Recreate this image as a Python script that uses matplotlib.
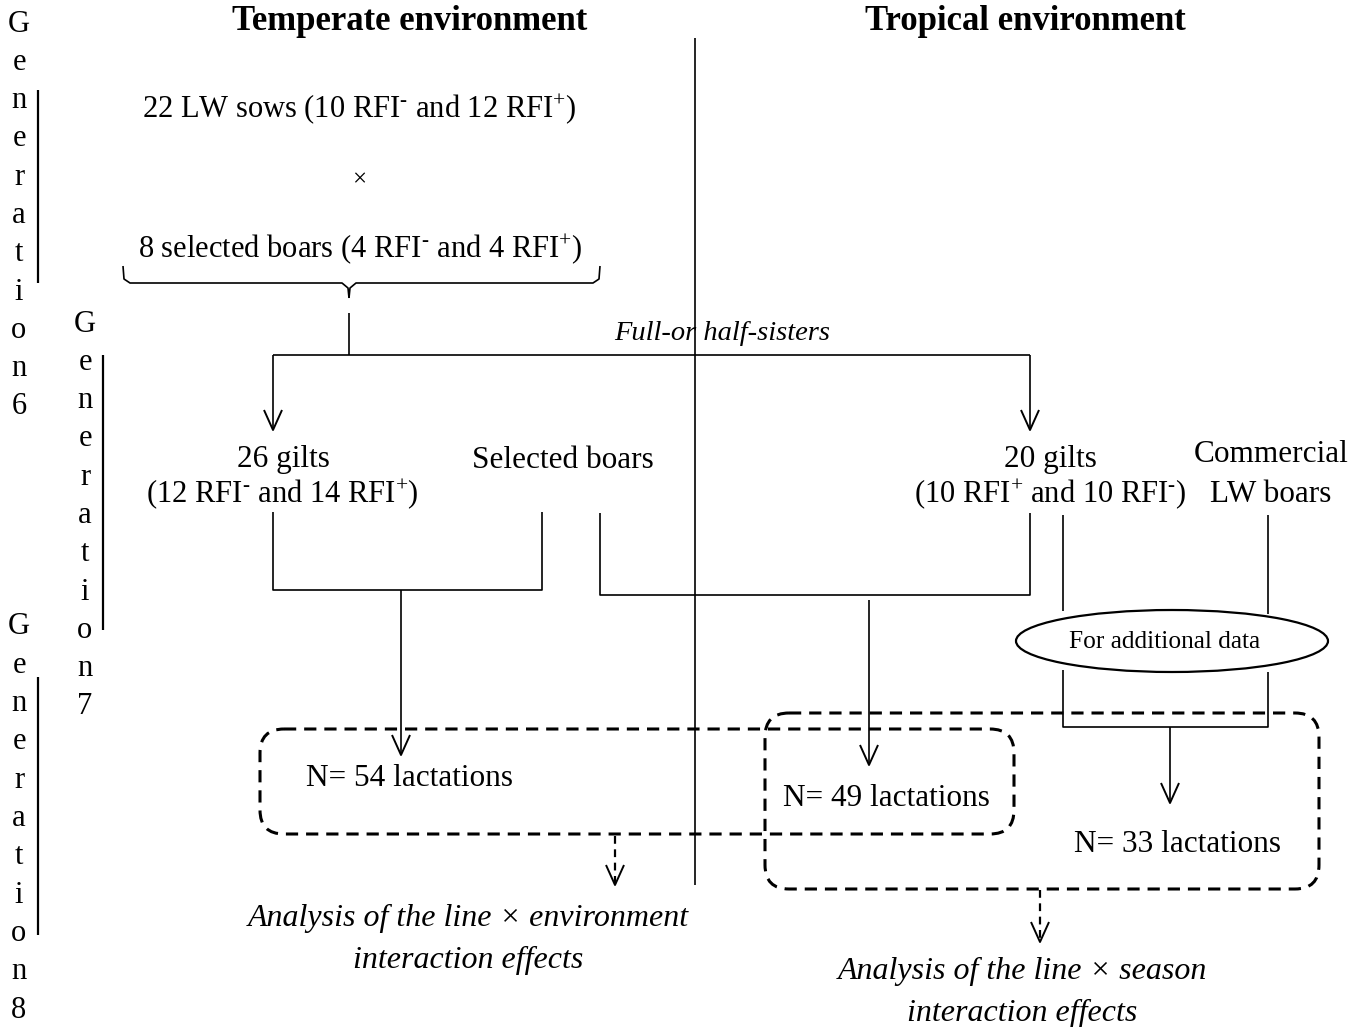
"""Flow diagram: line x environment / line x season lactation data."""

import matplotlib

matplotlib.use("Agg")
import matplotlib.pyplot as plt
from matplotlib.patches import Ellipse, FancyBboxPatch

plt.rcParams["font.family"] = ["Liberation Serif", "DejaVu Serif"]
plt.rcParams["mathtext.fontset"] = "custom"
plt.rcParams["mathtext.rm"] = "Liberation Serif"
plt.rcParams["mathtext.it"] = "Liberation Serif:italic"
plt.rcParams["mathtext.bf"] = "Liberation Serif:bold"

NEG = r"RFI$^{\text{-}}$"
POS = r"RFI$^{+}$"

# --- content -----------------------------------------------------------
HEADINGS = ["Temperate environment", "Tropical environment"]
GENERATIONS = [6, 7, 8]
PARENTS = [
    f"22 LW sows (10 {NEG} and 12 {POS})",
    "×",
    f"8 selected boars (4 {NEG} and 4 {POS})",
]
SISTERS = "Full-or half-sisters"
GILTS_COUNT = [26, 20]
GILTS_SPLIT = [f"(12 {NEG} and 14 {POS})", f"(10 {POS} and 10 {NEG})"]
BOARS = ["Selected boars", "Commercial", "LW boars"]
EXTRA = "For additional data"
LACTATIONS = [54, 49, 33]
ANALYSES = [
    ["Analysis of the line × environment", "interaction effects"],
    ["Analysis of the line × season", "interaction effects"],
]

# --- layout (pixel coordinates, y down) --------------------------------
W, H = 1363, 1027
LW = 1.2
FS = 22.5
DY = 3  # text nudge

fig = plt.figure(figsize=(W / 100, H / 100), dpi=100)
ax = fig.add_axes([0, 0, 1, 1])
ax.set_xlim(0, W)
ax.set_ylim(H, 0)
ax.axis("off")


def line(pts, **kw):
    xs, ys = zip(*pts)
    ax.plot(xs, ys, color="black", lw=kw.pop("lw", LW), solid_capstyle="butt", **kw)


def arrow(x, y0, y1, dashed=False):
    if dashed:
        line([(x, y0), (x, y1)], lw=1.6, dashes=(3.5, 2.5))
    else:
        line([(x, y0), (x, y1)])
    line([(x - 9, y1 - 20), (x, y1), (x + 9, y1 - 20)], lw=1.4)


def txt(x, y, s, size=FS, **kw):
    ax.text(x, y + DY, s, ha="center", va="center", fontsize=size, **kw)


# headings
txt(410, 19, HEADINGS[0], size=25, fontweight="bold")
txt(1025, 19, HEADINGS[1], size=25, fontweight="bold")

# generation labels
for gen, x, y0, bar in zip(GENERATIONS, [19, 85, 19], [21, 321, 624],
                           [(38, 90, 283), (103, 355, 630), (38, 677, 935)]):
    for i, ch in enumerate(f"Generation{gen}"):
        txt(x, y0 + i * 38.3, ch, size=22)
    line([(bar[0], bar[1]), (bar[0], bar[2])], lw=1.6)

# divider between environments
line([(695, 38), (695, 885)])

# parents
txt(359, 106, PARENTS[0], size=22)
txt(359, 177, PARENTS[1], size=18)
txt(360, 246, PARENTS[2], size=22)

# brace under the boars
line([(123, 266), (124, 279), (130, 283), (342, 283), (348, 288), (349, 298)])
line([(600, 266), (599, 279), (593, 283), (356, 283), (350, 288), (349, 298)])
line([(349, 313), (349, 355)])
line([(273, 355), (1030, 355)])
arrow(273, 355, 430)
arrow(1030, 355, 430)
txt(722, 331, SISTERS, size=20.5, style="italic")

# gilts and boars
txt(283, 457, f"{GILTS_COUNT[0]} gilts")
txt(282, 491, GILTS_SPLIT[0], size=22)
txt(563, 457, BOARS[0])
txt(1050, 457, f"{GILTS_COUNT[1]} gilts")
txt(1050, 491, GILTS_SPLIT[1], size=22)
txt(1271, 451, BOARS[1])
txt(1271, 492, BOARS[2])

# temperate mating
line([(273, 512), (273, 590), (542, 590), (542, 512)])
arrow(401, 590, 755)

# tropical mating with selected boars
line([(600, 513), (600, 595), (1030, 595), (1030, 513)])
arrow(869, 600, 765)

# tropical mating with commercial boars
line([(1063, 515), (1063, 611)])
line([(1268, 515), (1268, 614)])
ax.add_patch(Ellipse((1172, 641), 312, 62, fill=False, lw=1.6, ec="black"))
txt(1165, 639, EXTRA, size=18.3)
line([(1063, 670), (1063, 727), (1268, 727), (1268, 672)])
arrow(1170, 727, 803)

# dashed groupings
for x0, y0, x1, y1 in [(260, 729, 1014, 834), (765, 713, 1319, 889)]:
    ax.add_patch(FancyBboxPatch((x0, y0), x1 - x0, y1 - y0,
                                boxstyle="round,pad=0,rounding_size=24",
                                fill=False, ec="black", lw=2.2,
                                linestyle=(0, (4, 2.6))))

for n, (x, y) in zip(LACTATIONS, [(409, 776), (886, 796), (1177, 841)]):
    txt(x, y, f"N= {n} lactations")

arrow(615, 836, 885, dashed=True)
arrow(1040, 890, 942, dashed=True)

for (l1, l2), x, y in zip(ANALYSES, [468, 1022], [915, 968]):
    txt(x, y, l1, size=23, style="italic")
    txt(x, y + 42, l2, size=23, style="italic")

fig.savefig("out.png", dpi=100)
